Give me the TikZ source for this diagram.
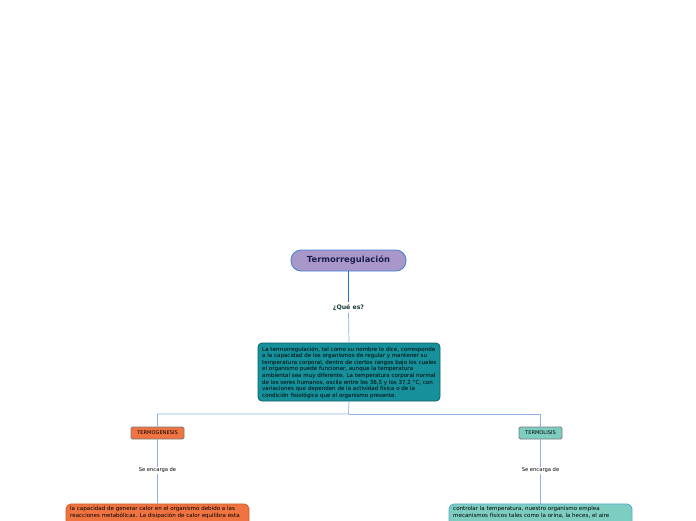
\documentclass[tikz,border=0pt]{standalone}
\usepackage{fontspec}
\setmainfont{DejaVu Sans}
\definecolor{titlefill}{HTML}{A997CA}
\definecolor{titledraw}{HTML}{3F80D6}
\definecolor{titletext}{HTML}{1B1F4E}
\definecolor{mainline}{HTML}{1F6BDA}
\definecolor{thinline}{HTML}{8FB0E8}
\definecolor{tealfill}{HTML}{16909A}
\definecolor{tealdraw}{HTML}{0E5E66}
\definecolor{orangefill}{HTML}{EF7441}
\definecolor{orangedraw}{HTML}{C9602F}
\definecolor{mintfill}{HTML}{7ECDC1}
\definecolor{mintdraw}{HTML}{5BA6D8}
\definecolor{greytdraw}{HTML}{7A7A7A}
\definecolor{quetext}{HTML}{173A3A}
\tikzset{
  conn/.style={draw=thinline, line width=0.7pt},
  bodytext/.style={font=\fontsize{5.55}{6.6}\selectfont, text=black, align=left, inner sep=0pt},
  tagbox/.style={draw=greytdraw, line width=0.8pt, rounded corners=1.5pt, minimum height=12pt, inner sep=0pt, font=\fontsize{5.1}{5.5}\selectfont},
  label/.style={font=\fontsize{5.2}{6}\selectfont, inner sep=1pt},
}
\begin{document}
\begin{tikzpicture}[x=1pt,y=-1pt]
\clip (0,0) rectangle (696,520);
\fill[white] (0,0) rectangle (696,520);
% title
\node[draw=titledraw, fill=titlefill, line width=0.8pt, rounded corners=10pt,
      minimum width=115pt, minimum height=21pt, inner sep=0pt,
      font=\fontsize{8.4}{9}\selectfont\bfseries, text=titletext] (title) at (348.5,260.5) {Termorregulación};
\node[font=\fontsize{6.2}{7}\selectfont\bfseries, text=quetext, inner sep=2pt] (que) at (348.5,307.5) {¿Qué es?};
\draw[draw=mainline, line width=1.5pt] (title.south) -- (que.north);
% body
\node[draw=tealdraw, fill=tealfill, line width=0.8pt, rounded corners=4pt,
      minimum width=182pt, minimum height=58pt, inner sep=0pt] (body) at (349,372) {};
\node[bodytext, anchor=north west] (bodyt) at (262,346.5) {La termorregulación, tal como su nombre lo dice, corresponde\\a la capacidad de los organismos de regular y mantener su\\temperatura corporal, dentro de ciertos rangos bajo los cuales\\el organismo puede funcionar, aunque la temperatura\\ambiental sea muy diferente. La temperatura corporal normal\\de los seres humanos, oscila entre los 36,5 y los 37,2 °C, con\\variaciones que dependen de la actividad física o de la\\condición fisiológica que el organismo presente.};
\draw[conn] (que.south) -- (body.north);
% branches
\coordinate (j) at (348.5,414);
\node[tagbox, fill=orangefill, minimum width=53pt] (tg) at (157.5,433) {TERMOGENESIS};
\node[tagbox, fill=mintfill, minimum width=43pt] (tl) at (540.5,433) {TERMOLISIS};
\draw[conn] (body.south) -- (j) -| (tg.north);
\draw[conn] (j) -| (tl.north);
\node[label] (se1) at (157.5,470.5) {Se encarga de};
\node[label] (se2) at (540.5,470.5) {Se encarga de};
\draw[conn] (tg.south) -- (se1.north);
\draw[conn] (tl.south) -- (se2.north);
% bottom boxes (cut off by the page)
\node[draw=orangedraw, fill=orangefill, line width=0.8pt, rounded corners=5pt,
      minimum width=183pt, minimum height=40pt, anchor=north] (bl) at (157.5,503.5) {};
\node[bodytext, anchor=north west] (blt) at (70,506.5) {la capacidad de generar calor en el organismo debido a las\\reacciones metabólicas. La disipación de calor equilibra esta};
\node[draw=mintdraw, fill=mintfill, line width=0.8pt, rounded corners=5pt,
      minimum width=183pt, minimum height=40pt, anchor=north] (br) at (540.5,503.5) {};
\node[bodytext, anchor=north west] (brt) at (453,506.5) {controlar la temperatura, nuestro organismo emplea\\mecanismos físicos tales como la orina, la heces, el aire};
\draw[conn] (se1.south) -- (bl.north);
\draw[conn] (se2.south) -- (br.north);
\end{tikzpicture}
\end{document}
